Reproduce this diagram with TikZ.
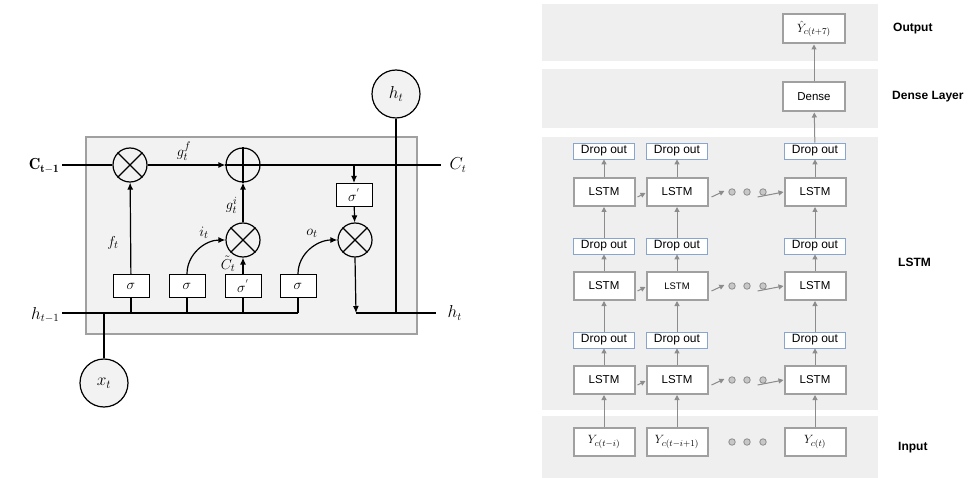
\documentclass[tikz,border=0pt]{standalone}
\usepackage{fontspec}
\newfontfamily\sansf{Liberation Sans}
\usetikzlibrary{arrows.meta}
\definecolor{band}{RGB}{239,239,239}
\definecolor{cellbg}{RGB}{242,242,242}
\definecolor{boxgray}{RGB}{160,160,160}
\definecolor{arrgray}{RGB}{140,140,140}
\definecolor{dropblue}{RGB}{135,165,205}
\begin{document}
\begin{tikzpicture}[x=1pt,y=-1pt,
  arr/.style={-{Latex[length=7pt,width=6pt]},line width=1.2pt},
  ln/.style={line width=1.2pt},
  opc/.style={circle,draw,line width=1.2pt,fill=cellbg,minimum size=34pt,inner sep=0pt},
  sbox/.style={rectangle,draw,line width=1pt,fill=white,minimum width=36pt,minimum height=23pt,inner sep=0pt,font=\fontsize{15}{17}\selectfont},
  bigc/.style={circle,draw,line width=1.2pt,fill=cellbg,minimum size=48pt,inner sep=0pt,font=\fontsize{17}{19}\selectfont},
  mlab/.style={font=\fontsize{15}{17}\selectfont,inner sep=0.5pt},
  lbox/.style={rectangle,draw=boxgray,line width=2pt,fill=white,minimum width=61pt,minimum height=28pt,inner sep=0pt,font=\sansf\fontsize{11.5}{13}\selectfont},
  dbox/.style={rectangle,draw=dropblue,line width=0.8pt,fill=white,minimum width=61pt,minimum height=16pt,inner sep=0pt,font=\sansf\fontsize{12}{13}\selectfont},
  garr/.style={-{Triangle[length=5pt,width=5pt]},draw=arrgray,fill=arrgray,line width=1pt},
  dotc/.style={circle,draw=arrgray,fill=band!60!arrgray,line width=0.8pt,minimum size=6.5pt,inner sep=0pt},
  rlab/.style={font=\sansf\bfseries\fontsize{12}{14}\selectfont,anchor=west,inner sep=0pt}
]
\useasboundingbox (0,0) rectangle (974,478);

% ================= LEFT: LSTM cell =================
\draw[fill=cellbg,draw=boxgray,line width=1.3pt] (86,137) rectangle (417,334);

\coordinate (cin) at (62,165);
\coordinate (cout) at (441,165);
\coordinate (hin) at (62,313);
\coordinate (hend) at (298,313);
\coordinate (hout) at (436,313);
\coordinate (csplit) at (354,165);
\coordinate (hmid) at (356,313);
\coordinate (xj) at (104,313);
\coordinate (hj) at (396,313);

\node[opc] (m1) at (130,165) {};
\node[opc] (pl) at (243,165) {};
\node[opc] (m2) at (243,240) {};
\node[opc] (m3) at (355,240) {};
\foreach \n in {m1,m2,m3}{
  \draw[line width=1.2pt] (\n.north west) -- (\n.south east);
  \draw[line width=1.2pt] (\n.north east) -- (\n.south west);
}
\draw[line width=1.2pt] (pl.north) -- (pl.south);
\draw[line width=1.2pt] (pl.west) -- (pl.east);

\node[sbox] (sf) at (131,286) {$\sigma$};
\node[sbox] (si) at (187,286) {$\sigma$};
\node[sbox] (st) at (243,286) {$\sigma^{'}$};
\node[sbox] (so) at (298,286) {$\sigma$};
\node[sbox] (sp) at (354,195) {$\sigma^{'}$};

\node[bigc] (ht) at (396,94) {$h_t$};
\node[bigc] (xt) at (104,383) {$x_t$};

% cell state line
\draw[ln] (cin) -- (m1);
\draw[arr] (m1) -- (pl);
\draw[ln] (pl) -- (cout);
% hidden line
\draw[ln] (hin) -- (hend);
\draw[ln] (hmid) -- (hout);
\foreach \s in {sf,si,st,so}{ \draw[ln] (\s.south) -- (\s.south |- hin); }
% gates
\draw[arr] (sf) -- (m1);
\draw[arr] (m2) -- (pl);
\draw[arr] (st) -- (m2);
\draw[arr] (si.north) to[out=90,in=180] (m2.west);
\draw[arr] (so.north) to[out=90,in=180] (m3.west);
\draw[arr] (csplit) -- (sp.north);
\draw[arr] (sp) -- (m3);
\draw[arr] (m3.south) -- (hmid);
% inputs / outputs
\draw[ln] (xt) -- (xj);
\draw[ln] (ht) -- (hj);

% labels
\node[mlab,anchor=east,font=\fontsize{16}{18}\selectfont] (lc) at (60,166) {$\mathbf{C_{t-1}}$};
\node[mlab,anchor=east,font=\fontsize{16}{18}\selectfont] (lh) at (60,315) {$h_{t-1}$};
\node[mlab,anchor=west,font=\fontsize{16}{18}\selectfont] (lct) at (449,165) {$C_t$};
\node[mlab,anchor=west,font=\fontsize{16}{18}\selectfont] (lht) at (447,313) {$h_t$};
\node[mlab,anchor=south] (lgf) at (184,161) {$g_t^{f}$};
\node[mlab,anchor=east] (lgi) at (238,205) {$g_t^{i}$};
\node[mlab] (lft) at (113,243) {$f_t$};
\node[mlab] (lit) at (204,233) {$i_t$};
\node[mlab,anchor=east] (lct2) at (236,264) {$\tilde{C}_t$};
\node[mlab] (lot) at (312,233) {$o_t$};

% ================= RIGHT: stacked LSTM =================
\fill[band] (542,4) rectangle (878,61);
\fill[band] (542,69) rectangle (878,128);
\fill[band] (542,137) rectangle (878,410);
\fill[band] (542,416) rectangle (878,478);

\node[lbox,minimum width=62pt,minimum height=29pt,font=\fontsize{12.5}{14}\selectfont] (out) at (814,29) {$\hat{Y}_{c(t+7)}$};
\node[lbox,minimum width=62pt,minimum height=29pt] (dense) at (814,97) {Dense};

\foreach \c/\x in {1/604,2/677,3/815}{
  \node[dbox] (d3\c) at (\x,151) {Drop out};
  \node[lbox] (l3\c) at (\x,192) {LSTM};
  \node[dbox] (d2\c) at (\x,246) {Drop out};
  \node[lbox] (l2\c) at (\x,286) {\ifnum\c=2 \fontsize{9.5}{11}\selectfont\fi LSTM};
  \node[dbox] (d1\c) at (\x,340) {Drop out};
  \node[lbox] (l1\c) at (\x,380) {LSTM};
  \draw[garr] (l1\c) -- (d1\c);
  \draw[garr] (d1\c) -- (l2\c);
  \draw[garr] (l2\c) -- (d2\c);
  \draw[garr] (d2\c) -- (l3\c);
  \draw[garr] (l3\c) -- (d3\c);
}
\node[lbox,font=\fontsize{12.5}{14}\selectfont] (y1) at (604,442) {$Y_{c(t-i)}$};
\node[lbox,font=\fontsize{12.5}{14}\selectfont] (y2) at (677,442) {$Y_{c(t-i+1)}$};
\node[lbox,font=\fontsize{12.5}{14}\selectfont] (y3) at (815,442) {$Y_{c(t)}$};
\draw[garr] (y1) -- (l11);
\draw[garr] (y2) -- (l12);
\draw[garr] (y3) -- (l13);
\draw[garr] (d33) -- (dense);
\draw[garr] (dense) -- (out);

\foreach \r/\y in {1/380,2/286,3/192}{
  \node[dotc] (a\r) at (732,\y) {};
  \node[dotc] (b\r) at (747,\y) {};
  \node[dotc] (c\r) at (763,\y) {};
  \draw[garr] ([xshift=2pt,yshift=-5pt]l\r1.east) -- ([yshift=-1pt]l\r2.west);
  \draw[garr] ([xshift=3pt,yshift=-5pt]l\r2.east) -- ([xshift=-4pt,yshift=1pt]a\r.west);
  \draw[garr] ([xshift=-9pt,yshift=-5pt]c\r.east) -- (l\r3.west);
}
\node[dotc] (ia) at (732,442) {};
\node[dotc] (ib) at (747,442) {};
\node[dotc] (ic) at (763,442) {};

\node[rlab] (tout) at (893,29) {Output};
\node[rlab] (tden) at (892,97) {Dense Layer};
\node[rlab] (tlstm) at (898,262) {LSTM};
\node[rlab] (tin) at (898,448) {Input};
\end{tikzpicture}
\end{document}
